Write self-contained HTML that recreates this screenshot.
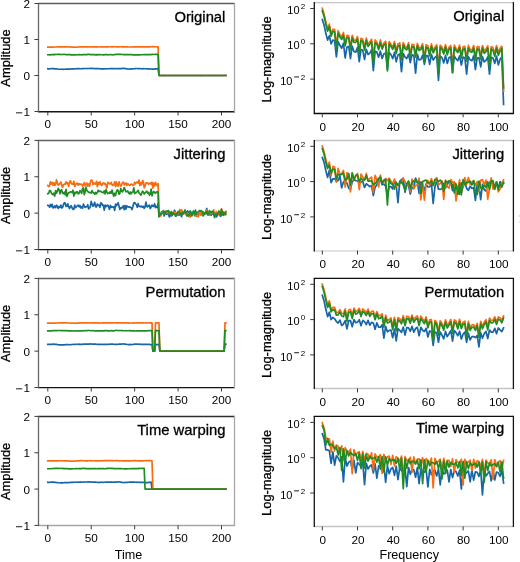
<!DOCTYPE html>
<html><head><meta charset="utf-8"><style>
html,body{margin:0;padding:0;background:#fff;width:520px;height:562px;overflow:hidden}
svg{display:block;will-change:transform}
text{font-family:"Liberation Sans", sans-serif;fill:#000}
.ti,.lb{stroke:#000;stroke-width:0.3px}
.tk{font-size:10.5px}
.tk2{font-size:10.5px}
.sup{font-size:8px}
.tky{font-size:11px}
.ti{font-size:14.8px}
.lb{font-size:12.9px}
.xl{font-size:12.6px}
</style></head><body>
<svg width="520" height="562" viewBox="0 0 520 562">
<g>
<polyline points="47.8,68.77 48.67,68.82 49.54,68.8 50.41,68.75 51.27,68.68 52.14,68.71 53.01,68.64 53.88,68.59 54.75,68.8 55.62,68.79 56.48,68.89 57.35,69.03 58.22,69.2 59.09,69.23 59.96,69.25 60.83,69.23 61.7,69.27 62.56,69.18 63.43,69.34 64.3,69.24 65.17,69.14 66.04,68.99 66.91,69.09 67.78,69.03 68.64,69.13 69.51,69.2 70.38,69.1 71.25,68.97 72.12,68.93 72.99,68.86 73.85,68.91 74.72,68.8 75.59,68.76 76.46,68.68 77.33,68.71 78.2,68.79 79.07,68.62 79.93,68.74 80.8,68.74 81.67,68.68 82.54,68.72 83.41,68.58 84.28,68.52 85.15,68.52 86.01,68.52 86.88,68.58 87.75,68.48 88.62,68.49 89.49,68.51 90.36,68.4 91.22,68.45 92.09,68.56 92.96,68.45 93.83,68.49 94.7,68.53 95.57,68.6 96.44,68.7 97.3,68.71 98.17,68.69 99.04,68.72 99.91,68.77 100.78,68.84 101.65,68.76 102.52,68.92 103.38,68.87 104.25,68.83 105.12,68.72 105.99,68.73 106.86,68.85 107.73,68.77 108.59,68.73 109.46,68.66 110.33,68.54 111.2,68.53 112.07,68.49 112.94,68.6 113.81,68.67 114.67,68.73 115.54,68.7 116.41,68.72 117.28,68.75 118.15,68.66 119.02,68.64 119.89,68.62 120.75,68.63 121.62,68.54 122.49,68.45 123.36,68.4 124.23,68.47 125.1,68.53 125.97,68.71 126.83,68.87 127.7,68.95 128.57,68.99 129.44,69.06 130.31,68.88 131.18,68.99 132.04,68.94 132.91,68.95 133.78,68.78 134.65,68.64 135.52,68.63 136.39,68.51 137.26,68.48 138.12,68.73 138.99,68.68 139.86,68.62 140.73,68.72 141.6,68.74 142.47,68.79 143.34,68.7 144.2,68.74 145.07,68.77 145.94,68.74 146.81,68.74 147.68,68.9 148.55,68.91 149.41,68.9 150.28,69 151.15,69.01 152.02,69.16 152.89,69.11 153.76,69.12 154.63,69.06 155.49,68.89 156.36,68.92 157.23,68.85 158.1,68.58 158.97,75.5 159.84,75.5 160.7,75.51 161.57,75.49 162.44,75.51 163.31,75.5 164.18,75.51 165.05,75.51 165.92,75.51 166.78,75.49 167.65,75.5 168.52,75.49 169.39,75.5 170.26,75.51 171.13,75.5 172,75.51 172.86,75.5 173.73,75.5 174.6,75.5 175.47,75.51 176.34,75.51 177.21,75.48 178.07,75.51 178.94,75.51 179.81,75.5 180.68,75.48 181.55,75.52 182.42,75.5 183.29,75.51 184.15,75.52 185.02,75.49 185.89,75.5 186.76,75.5 187.63,75.51 188.5,75.5 189.37,75.51 190.23,75.5 191.1,75.51 191.97,75.51 192.84,75.49 193.71,75.51 194.58,75.5 195.44,75.5 196.31,75.5 197.18,75.51 198.05,75.49 198.92,75.5 199.79,75.5 200.66,75.5 201.52,75.49 202.39,75.49 203.26,75.5 204.13,75.51 205,75.51 205.87,75.49 206.74,75.49 207.6,75.5 208.47,75.49 209.34,75.49 210.21,75.49 211.08,75.49 211.95,75.5 212.81,75.48 213.68,75.51 214.55,75.49 215.42,75.49 216.29,75.49 217.16,75.48 218.03,75.48 218.89,75.51 219.76,75.52 220.63,75.49 221.5,75.51 222.37,75.5 223.24,75.49 224.11,75.52 224.97,75.52 225.84,75.5" fill="none" stroke="#1666a8" stroke-width="1.7" stroke-linejoin="round" stroke-linecap="square"/>
<polyline points="47.8,47.06 48.67,47.07 49.54,47.04 50.41,47.08 51.27,47.08 52.14,47.06 53.01,47.08 53.88,47.04 54.75,47.01 55.62,47.01 56.48,47 57.35,46.93 58.22,46.95 59.09,46.89 59.96,46.85 60.83,46.82 61.7,46.88 62.56,46.87 63.43,46.86 64.3,46.87 65.17,46.95 66.04,46.91 66.91,46.9 67.78,46.89 68.64,46.98 69.51,46.95 70.38,47.01 71.25,47.16 72.12,47.18 72.99,47.13 73.85,47.12 74.72,47.2 75.59,47.24 76.46,47.11 77.33,47.08 78.2,47 79.07,46.88 79.93,46.86 80.8,46.88 81.67,46.86 82.54,46.8 83.41,46.81 84.28,46.83 85.15,46.86 86.01,46.82 86.88,46.87 87.75,46.88 88.62,46.91 89.49,46.98 90.36,46.92 91.22,46.83 92.09,46.87 92.96,46.81 93.83,46.84 94.7,46.89 95.57,46.87 96.44,46.88 97.3,46.82 98.17,46.93 99.04,47 99.91,46.98 100.78,46.97 101.65,46.97 102.52,46.87 103.38,46.82 104.25,46.84 105.12,46.86 105.99,46.89 106.86,46.82 107.73,46.77 108.59,46.78 109.46,46.77 110.33,46.76 111.2,46.82 112.07,46.8 112.94,46.8 113.81,46.72 114.67,46.73 115.54,46.74 116.41,46.78 117.28,46.83 118.15,46.86 119.02,46.8 119.89,46.77 120.75,46.76 121.62,46.78 122.49,46.88 123.36,46.9 124.23,46.87 125.1,46.86 125.97,46.85 126.83,46.92 127.7,46.93 128.57,46.99 129.44,46.99 130.31,46.98 131.18,46.94 132.04,47.01 132.91,46.97 133.78,46.9 134.65,46.91 135.52,46.93 136.39,46.86 137.26,46.86 138.12,46.86 138.99,46.88 139.86,46.77 140.73,46.8 141.6,46.87 142.47,46.9 143.34,46.86 144.2,46.92 145.07,46.96 145.94,46.87 146.81,46.92 147.68,46.96 148.55,46.89 149.41,46.87 150.28,46.81 151.15,46.75 152.02,46.71 152.89,46.69 153.76,46.79 154.63,46.75 155.49,46.74 156.36,46.76 157.23,46.81 158.1,46.86 158.97,75.5 159.84,75.5 160.7,75.5 161.57,75.5 162.44,75.5 163.31,75.5 164.18,75.5 165.05,75.5 165.92,75.49 166.78,75.48 167.65,75.49 168.52,75.5 169.39,75.52 170.26,75.5 171.13,75.52 172,75.52 172.86,75.49 173.73,75.49 174.6,75.5 175.47,75.52 176.34,75.5 177.21,75.51 178.07,75.49 178.94,75.48 179.81,75.5 180.68,75.51 181.55,75.51 182.42,75.5 183.29,75.5 184.15,75.51 185.02,75.5 185.89,75.51 186.76,75.49 187.63,75.49 188.5,75.49 189.37,75.51 190.23,75.49 191.1,75.5 191.97,75.5 192.84,75.5 193.71,75.51 194.58,75.52 195.44,75.49 196.31,75.5 197.18,75.5 198.05,75.49 198.92,75.52 199.79,75.51 200.66,75.5 201.52,75.5 202.39,75.5 203.26,75.49 204.13,75.5 205,75.51 205.87,75.51 206.74,75.49 207.6,75.49 208.47,75.52 209.34,75.49 210.21,75.49 211.08,75.49 211.95,75.5 212.81,75.5 213.68,75.51 214.55,75.47 215.42,75.5 216.29,75.48 217.16,75.51 218.03,75.5 218.89,75.52 219.76,75.5 220.63,75.49 221.5,75.51 222.37,75.49 223.24,75.5 224.11,75.51 224.97,75.51 225.84,75.5" fill="none" stroke="#f86c12" stroke-width="1.7" stroke-linejoin="round" stroke-linecap="square"/>
<polyline points="47.8,54.77 48.67,54.77 49.54,54.78 50.41,54.79 51.27,54.71 52.14,54.67 53.01,54.47 53.88,54.53 54.75,54.56 55.62,54.47 56.48,54.52 57.35,54.44 58.22,54.38 59.09,54.39 59.96,54.36 60.83,54.54 61.7,54.5 62.56,54.52 63.43,54.44 64.3,54.45 65.17,54.49 66.04,54.6 66.91,54.6 67.78,54.67 68.64,54.72 69.51,54.72 70.38,54.65 71.25,54.82 72.12,54.83 72.99,54.88 73.85,54.84 74.72,54.86 75.59,54.84 76.46,54.76 77.33,54.72 78.2,54.85 79.07,54.71 79.93,54.7 80.8,54.74 81.67,54.79 82.54,54.68 83.41,54.65 84.28,54.58 85.15,54.62 86.01,54.56 86.88,54.59 87.75,54.38 88.62,54.37 89.49,54.35 90.36,54.55 91.22,54.63 92.09,54.59 92.96,54.53 93.83,54.61 94.7,54.71 95.57,54.87 96.44,54.7 97.3,54.79 98.17,54.68 99.04,54.66 99.91,54.64 100.78,54.77 101.65,54.73 102.52,54.73 103.38,54.78 104.25,54.78 105.12,54.52 105.99,54.59 106.86,54.57 107.73,54.78 108.59,54.73 109.46,54.71 110.33,54.61 111.2,54.55 112.07,54.73 112.94,54.79 113.81,54.77 114.67,54.61 115.54,54.35 116.41,54.33 117.28,54.38 118.15,54.38 119.02,54.41 119.89,54.39 120.75,54.39 121.62,54.46 122.49,54.51 123.36,54.65 124.23,54.62 125.1,54.58 125.97,54.62 126.83,54.65 127.7,54.61 128.57,54.65 129.44,54.56 130.31,54.6 131.18,54.69 132.04,54.7 132.91,54.78 133.78,54.78 134.65,54.73 135.52,54.86 136.39,54.82 137.26,54.82 138.12,54.83 138.99,54.77 139.86,54.8 140.73,54.77 141.6,54.75 142.47,54.76 143.34,54.61 144.2,54.7 145.07,54.7 145.94,54.68 146.81,54.66 147.68,54.66 148.55,54.55 149.41,54.65 150.28,54.58 151.15,54.57 152.02,54.46 152.89,54.45 153.76,54.51 154.63,54.52 155.49,54.44 156.36,54.45 157.23,54.32 158.1,54.46 158.97,75.49 159.84,75.49 160.7,75.5 161.57,75.52 162.44,75.49 163.31,75.5 164.18,75.53 165.05,75.5 165.92,75.52 166.78,75.51 167.65,75.51 168.52,75.49 169.39,75.5 170.26,75.5 171.13,75.48 172,75.48 172.86,75.5 173.73,75.5 174.6,75.51 175.47,75.51 176.34,75.5 177.21,75.5 178.07,75.5 178.94,75.49 179.81,75.51 180.68,75.5 181.55,75.49 182.42,75.49 183.29,75.49 184.15,75.5 185.02,75.5 185.89,75.5 186.76,75.51 187.63,75.52 188.5,75.49 189.37,75.5 190.23,75.5 191.1,75.52 191.97,75.5 192.84,75.51 193.71,75.51 194.58,75.52 195.44,75.5 196.31,75.49 197.18,75.5 198.05,75.51 198.92,75.5 199.79,75.49 200.66,75.53 201.52,75.5 202.39,75.49 203.26,75.49 204.13,75.48 205,75.49 205.87,75.5 206.74,75.5 207.6,75.49 208.47,75.51 209.34,75.5 210.21,75.49 211.08,75.48 211.95,75.5 212.81,75.5 213.68,75.5 214.55,75.49 215.42,75.5 216.29,75.48 217.16,75.51 218.03,75.5 218.89,75.5 219.76,75.49 220.63,75.49 221.5,75.52 222.37,75.51 223.24,75.5 224.11,75.51 224.97,75.52 225.84,75.49" fill="none" stroke="#1f8c24" stroke-width="1.7" stroke-linejoin="round" stroke-linecap="square"/>
<line x1="38" y1="3.5" x2="235" y2="3.5" stroke="#5c5c5c" stroke-width="1.3"/>
<line x1="38" y1="111.7" x2="235" y2="111.7" stroke="#141414" stroke-width="1.4"/>
<line x1="38.5" y1="3" x2="38.5" y2="112.2" stroke="#666" stroke-width="1.3"/>
<line x1="234.5" y1="3" x2="234.5" y2="112.2" stroke="#a6a6a6" stroke-width="1.3"/>
<line x1="34.46" y1="3.5" x2="38.46" y2="3.5" stroke="#3a3a3a" stroke-width="1"/>
<text transform="translate(29.96,8) scale(1.12,1)" text-anchor="end" class="tk">2</text>
<line x1="34.46" y1="39.5" x2="38.46" y2="39.5" stroke="#3a3a3a" stroke-width="1"/>
<text transform="translate(29.96,44) scale(1.12,1)" text-anchor="end" class="tk">1</text>
<line x1="34.46" y1="75.5" x2="38.46" y2="75.5" stroke="#3a3a3a" stroke-width="1"/>
<text transform="translate(29.96,80) scale(1.12,1)" text-anchor="end" class="tk">0</text>
<line x1="34.46" y1="111.5" x2="38.46" y2="111.5" stroke="#3a3a3a" stroke-width="1"/>
<text transform="translate(29.96,116) scale(1.12,1)" text-anchor="end" class="tk">1</text>
<rect x="16" y="112.4" width="6.2" height="0.9" fill="#000"/>
<line x1="47.8" y1="111.5" x2="47.8" y2="115.5" stroke="#3a3a3a" stroke-width="1"/>
<text transform="translate(47.8,127.8) scale(1.12,1)" text-anchor="middle" class="tk">0</text>
<line x1="91.22" y1="111.5" x2="91.22" y2="115.5" stroke="#3a3a3a" stroke-width="1"/>
<text transform="translate(91.22,127.8) scale(1.12,1)" text-anchor="middle" class="tk">50</text>
<line x1="134.65" y1="111.5" x2="134.65" y2="115.5" stroke="#3a3a3a" stroke-width="1"/>
<text transform="translate(134.65,127.8) scale(1.12,1)" text-anchor="middle" class="tk">100</text>
<line x1="178.07" y1="111.5" x2="178.07" y2="115.5" stroke="#3a3a3a" stroke-width="1"/>
<text transform="translate(178.07,127.8) scale(1.12,1)" text-anchor="middle" class="tk">150</text>
<line x1="221.5" y1="111.5" x2="221.5" y2="115.5" stroke="#3a3a3a" stroke-width="1"/>
<text transform="translate(221.5,127.8) scale(1.12,1)" text-anchor="middle" class="tk">200</text>
<text x="225.4" y="21.7" text-anchor="end" class="ti">Original</text>
<text transform="translate(10,58) rotate(-90)" text-anchor="middle" class="lb">Amplitude</text>
</g>
<g>
<polyline points="322.3,19.48 324.06,25.07 325.82,33.32 327.58,40.13 329.34,35.72 331.1,43.92 332.86,40.11 334.62,40.8 336.38,56.88 338.14,41.68 339.9,45.29 341.66,48.22 343.42,43.2 345.18,58 346.94,47.04 348.7,46.45 350.46,58.72 352.22,46.17 353.98,51.55 355.74,52.16 357.5,47.44 359.26,61.71 361.02,49.39 362.78,50.3 364.54,59.52 366.3,49.25 368.06,54.56 369.82,53.12 371.58,49.84 373.34,70.74 375.1,51.41 376.86,52.12 378.62,57.19 380.38,51.14 382.14,58.54 383.9,53.87 385.66,52.88 387.42,69.39 389.18,52.71 390.94,54.51 392.7,58.74 394.46,52.42 396.22,61.78 397.98,54.99 399.74,53.9 401.5,71.76 403.26,53.49 405.02,57.13 406.78,58.53 408.54,54.17 410.3,62.6 412.06,54.85 413.82,55.36 415.58,73.1 417.34,54.31 419.1,59.95 420.86,59.48 422.62,55.08 424.38,64.41 426.14,55.9 427.9,55.64 429.66,64.41 431.42,54.46 433.18,60.11 434.94,57.48 436.7,55.74 438.46,80.51 440.22,56 441.98,57.68 443.74,62.87 445.5,55.4 447.26,63.48 449.02,57.62 450.78,56.91 452.54,72.75 454.3,55.94 456.06,58.82 457.82,60.58 459.58,55.88 461.34,65.04 463.1,57.1 464.86,57.85 466.62,74.16 468.38,56.63 470.14,59.83 471.9,60.72 473.66,55.79 475.42,69.75 477.18,57.85 478.94,57.74 480.7,66.85 482.46,56.67 484.22,61.89 485.98,60.27 487.74,56.8 489.5,74.16 491.26,57.23 493.02,57.94 494.78,63.4 496.54,56.06 498.3,64.94 500.06,59.28 501.82,57.14 503.58,104.34" fill="none" stroke="#1666a8" stroke-width="1.7" stroke-linejoin="round" stroke-linecap="square"/>
<polyline points="322.3,8.37 324.06,14.06 325.82,21.68 327.58,28.76 329.34,24.11 331.1,34.26 332.86,29.26 334.62,29.4 336.38,47.7 338.14,30.72 339.9,34.66 341.66,37.27 343.42,32.46 345.18,44.49 346.94,35.29 348.7,35.55 350.46,47.92 352.22,35.25 353.98,40.22 355.74,40.23 357.5,36.57 359.26,51.47 361.02,38.25 362.78,39.16 364.54,47.75 366.3,38.05 368.06,44.13 369.82,41.97 371.58,39.22 373.34,59.24 375.1,39.91 376.86,42.09 378.62,47.87 380.38,39.89 382.14,47.55 383.9,42.94 385.66,41.24 387.42,64.98 389.18,41.5 390.94,44.31 392.7,47.56 394.46,41.48 396.22,50.93 397.98,43.73 399.74,42.96 401.5,58.19 403.26,42.51 405.02,46.34 406.78,47.53 408.54,42.74 410.3,54.68 412.06,44.27 413.82,44.52 415.58,54.86 417.34,43.38 419.1,48.25 420.86,47.47 422.62,43.73 424.38,59.34 426.14,44.67 427.9,45.75 429.66,53.18 431.42,43.93 433.18,50.4 434.94,47.25 436.7,44.77 438.46,70.27 440.22,45.08 441.98,47.07 443.74,51.83 445.5,44.61 447.26,52.44 449.02,47.08 450.78,45.51 452.54,68.51 454.3,45.16 456.06,48.39 457.82,50.83 459.58,45.06 461.34,55.1 463.1,46.82 464.86,46.32 466.62,59.43 468.38,45.42 470.14,49.66 471.9,49.95 473.66,45.49 475.42,57.85 477.18,46.65 478.94,46.96 480.7,56.35 482.46,45.54 484.22,50.85 485.98,49.24 487.74,45.79 489.5,63.9 491.26,46.52 493.02,47.68 494.78,53.95 496.54,45.51 498.3,52.43 500.06,48.28 501.82,46.21 503.58,91.28" fill="none" stroke="#f86c12" stroke-width="1.7" stroke-linejoin="round" stroke-linecap="square"/>
<polyline points="322.3,10.79 324.06,16.49 325.82,24.05 327.58,31.2 329.34,26.52 331.1,36.29 332.86,31.45 334.62,31.82 336.38,49.5 338.14,33.12 339.9,37.09 341.66,39.42 343.42,35.13 345.18,45.8 346.94,37.54 348.7,37.92 350.46,49.62 352.22,37.89 353.98,42.32 355.74,42.48 357.5,39.06 359.26,53.31 361.02,40.6 362.78,41.57 364.54,50.27 366.3,40.43 368.06,46.47 369.82,44.3 371.58,41.65 373.34,62.98 375.1,42.77 376.86,43.89 378.62,49.71 380.38,42.5 382.14,49.11 383.9,45.03 385.66,43.67 387.42,70.98 389.18,43.82 390.94,46.3 392.7,49.32 394.46,43.95 396.22,53.52 397.98,46.16 399.74,45.3 401.5,59.93 403.26,44.84 405.02,48.75 406.78,49.87 408.54,45.09 410.3,57.52 412.06,46.62 413.82,46.89 415.58,57.17 417.34,45.92 419.1,50.4 420.86,49.59 422.62,46.23 424.38,61.89 426.14,47.2 427.9,48.21 429.66,55.83 431.42,46.32 433.18,52.77 434.94,49.48 436.7,47.08 438.46,73.63 440.22,47.42 441.98,49.42 443.74,54.07 445.5,46.94 447.26,54.83 449.02,49.48 450.78,47.8 452.54,72.75 454.3,47.51 456.06,50.65 457.82,52.38 459.58,47.62 461.34,58.16 463.1,49.41 464.86,48.79 466.62,61.03 468.38,48.14 470.14,51.72 471.9,52.24 473.66,48.04 475.42,60.06 477.18,49.11 478.94,49.44 480.7,59.11 482.46,47.92 484.22,53.28 485.98,51.6 487.74,48.18 489.5,66.51 491.26,48.82 493.02,50.31 494.78,56.39 496.54,47.97 498.3,55.27 500.06,51.11 501.82,48.44 503.58,87.92" fill="none" stroke="#1f8c24" stroke-width="1.7" stroke-linejoin="round" stroke-linecap="square"/>
<line x1="313.8" y1="2.6" x2="513.9" y2="2.6" stroke="#c4c4c4" stroke-width="1.3"/>
<line x1="313.8" y1="113.5" x2="513.9" y2="113.5" stroke="#0c0c0c" stroke-width="1.3"/>
<line x1="314.3" y1="2.1" x2="314.3" y2="114" stroke="#141414" stroke-width="1.3"/>
<line x1="513.4" y1="2.1" x2="513.4" y2="114" stroke="#141414" stroke-width="1.3"/>
<line x1="310.2" y1="8.5" x2="314.2" y2="8.5" stroke="#3a3a3a" stroke-width="1"/>
<text x="299.6" y="14.1" text-anchor="end" class="tky">10</text>
<text x="305.2" y="9.1" text-anchor="end" class="sup">2</text>
<line x1="310.2" y1="43.8" x2="314.2" y2="43.8" stroke="#3a3a3a" stroke-width="1"/>
<text x="299.6" y="49.4" text-anchor="end" class="tky">10</text>
<text x="305.2" y="44.4" text-anchor="end" class="sup">0</text>
<line x1="310.2" y1="79.1" x2="314.2" y2="79.1" stroke="#3a3a3a" stroke-width="1"/>
<text x="292.4" y="84.7" text-anchor="end" class="tky">10</text>
<rect x="294.2" y="76.5" width="4.8" height="0.9" fill="#000"/>
<text x="305.2" y="79.7" text-anchor="end" class="sup">2</text>
<line x1="322.3" y1="113.3" x2="322.3" y2="117.3" stroke="#3a3a3a" stroke-width="1"/>
<text transform="translate(322.8,130.5) scale(1.12,1)" text-anchor="middle" class="tk2">0</text>
<line x1="357.5" y1="113.3" x2="357.5" y2="117.3" stroke="#3a3a3a" stroke-width="1"/>
<text transform="translate(358,130.5) scale(1.12,1)" text-anchor="middle" class="tk2">20</text>
<line x1="392.7" y1="113.3" x2="392.7" y2="117.3" stroke="#3a3a3a" stroke-width="1"/>
<text transform="translate(393.2,130.5) scale(1.12,1)" text-anchor="middle" class="tk2">40</text>
<line x1="427.9" y1="113.3" x2="427.9" y2="117.3" stroke="#3a3a3a" stroke-width="1"/>
<text transform="translate(428.4,130.5) scale(1.12,1)" text-anchor="middle" class="tk2">60</text>
<line x1="463.1" y1="113.3" x2="463.1" y2="117.3" stroke="#3a3a3a" stroke-width="1"/>
<text transform="translate(463.6,130.5) scale(1.12,1)" text-anchor="middle" class="tk2">80</text>
<line x1="498.3" y1="113.3" x2="498.3" y2="117.3" stroke="#3a3a3a" stroke-width="1"/>
<text transform="translate(498.8,130.5) scale(1.12,1)" text-anchor="middle" class="tk2">100</text>
<text x="504.2" y="21" text-anchor="end" class="ti">Original</text>
<text transform="translate(270.8,59.45) rotate(-90)" text-anchor="middle" class="lb">Log-magnitude</text>
</g>
<g>
<polyline points="47.8,205.44 48.67,205.49 49.54,207.23 50.41,204.45 51.27,206.68 52.14,204.28 53.01,207.86 53.88,207.71 54.75,205.99 55.62,207.64 56.48,205.23 57.35,206.13 58.22,208.45 59.09,206.66 59.96,207.46 60.83,205.14 61.7,207.99 62.56,207.55 63.43,204.71 64.3,202.74 65.17,203.07 66.04,206.44 66.91,206.26 67.78,203.81 68.64,206.92 69.51,208.54 70.38,206.46 71.25,205.72 72.12,208.01 72.99,209.42 73.85,209.09 74.72,205.16 75.59,207.7 76.46,206.5 77.33,205.89 78.2,205.23 79.07,206.79 79.93,205.39 80.8,207.92 81.67,206.9 82.54,208.15 83.41,204.08 84.28,206.13 85.15,207.43 86.01,206.72 86.88,206.55 87.75,204.76 88.62,208.95 89.49,207.95 90.36,206.65 91.22,201.4 92.09,204.38 92.96,206.21 93.83,204.76 94.7,202.35 95.57,206.59 96.44,206.93 97.3,204.07 98.17,205.36 99.04,205.06 99.91,207.26 100.78,202.91 101.65,203.21 102.52,205.46 103.38,205.19 104.25,210.08 105.12,205.12 105.99,206.65 106.86,205.62 107.73,205.1 108.59,206.92 109.46,209.3 110.33,205.43 111.2,207.44 112.07,206.66 112.94,207.26 113.81,206.85 114.67,210.49 115.54,204.05 116.41,205.82 117.28,204.29 118.15,202.63 119.02,206.16 119.89,209.46 120.75,207.82 121.62,208.29 122.49,206.92 123.36,205.82 124.23,209.67 125.1,205.47 125.97,209.02 126.83,205.89 127.7,206.71 128.57,207.13 129.44,206.76 130.31,207.43 131.18,207.67 132.04,209.57 132.91,206.57 133.78,202.99 134.65,202.6 135.52,203.79 136.39,204.79 137.26,207.27 138.12,203.67 138.99,206.34 139.86,206.31 140.73,206.82 141.6,206.14 142.47,207.15 143.34,206.42 144.2,208.28 145.07,207.02 145.94,202.16 146.81,206.43 147.68,206.9 148.55,205.5 149.41,205.18 150.28,208.59 151.15,206.95 152.02,205.06 152.89,206.18 153.76,206.47 154.63,203.8 155.49,207.69 156.36,206.34 157.23,207.36 158.1,203.43 158.97,216.69 159.84,214.35 160.7,214.11 161.57,211.91 162.44,212.04 163.31,210.6 164.18,216 165.05,211.78 165.92,213.68 166.78,214.33 167.65,212.15 168.52,214.8 169.39,216.91 170.26,213.81 171.13,215.86 172,214.32 172.86,212.46 173.73,212.57 174.6,210.25 175.47,213.51 176.34,215.93 177.21,214.49 178.07,214.81 178.94,215.36 179.81,212.34 180.68,214.29 181.55,216.74 182.42,211.87 183.29,213.34 184.15,212.5 185.02,212.93 185.89,211.99 186.76,213.06 187.63,210.89 188.5,212.36 189.37,212.43 190.23,212.39 191.1,215.79 191.97,213.45 192.84,213.59 193.71,212.76 194.58,215.6 195.44,210.16 196.31,212.95 197.18,215.34 198.05,216.23 198.92,213.65 199.79,213.3 200.66,214.44 201.52,212.95 202.39,214.29 203.26,212.13 204.13,214.46 205,213.22 205.87,211.34 206.74,208.45 207.6,214.97 208.47,213.97 209.34,214.65 210.21,211.7 211.08,215.21 211.95,214.02 212.81,213.17 213.68,214.93 214.55,214.86 215.42,213.99 216.29,216.94 217.16,215.74 218.03,213.87 218.89,212.88 219.76,213.49 220.63,216.35 221.5,213.99 222.37,211.68 223.24,212.11 224.11,213.29 224.97,214.77 225.84,211.98" fill="none" stroke="#1666a8" stroke-width="1.7" stroke-linejoin="round" stroke-linecap="square"/>
<polyline points="47.8,185.46 48.67,186.54 49.54,185.85 50.41,181.79 51.27,184.02 52.14,182.29 53.01,185.3 53.88,182.68 54.75,185.44 55.62,184.64 56.48,179.82 57.35,182.88 58.22,185.2 59.09,184.39 59.96,183.6 60.83,181.96 61.7,185.12 62.56,187.38 63.43,184.71 64.3,184.19 65.17,184.09 66.04,181.85 66.91,183.66 67.78,182.76 68.64,186.32 69.51,182.71 70.38,180.54 71.25,183.1 72.12,184.06 72.99,184.19 73.85,181.21 74.72,186.24 75.59,184.79 76.46,183.62 77.33,183.07 78.2,185.14 79.07,183.66 79.93,184.7 80.8,184 81.67,184.44 82.54,186.22 83.41,184.19 84.28,182.58 85.15,185.97 86.01,184.6 86.88,183 87.75,186.17 88.62,183.92 89.49,186.25 90.36,182.2 91.22,179.96 92.09,180.53 92.96,184.55 93.83,182.83 94.7,184.01 95.57,184.03 96.44,181.4 97.3,186.56 98.17,182.35 99.04,184.43 99.91,181.77 100.78,183.97 101.65,185.54 102.52,183.71 103.38,182.82 104.25,184.12 105.12,183.31 105.99,185.18 106.86,188.04 107.73,182.48 108.59,182.85 109.46,183.84 110.33,183.98 111.2,182.27 112.07,184.98 112.94,185.42 113.81,184.41 114.67,181.9 115.54,186.61 116.41,181.95 117.28,185.33 118.15,186.2 119.02,181.85 119.89,184.29 120.75,186.47 121.62,184.77 122.49,182.53 123.36,182.08 124.23,184.99 125.1,183.46 125.97,182.89 126.83,185.43 127.7,183.63 128.57,184.4 129.44,185.31 130.31,185.22 131.18,184.16 132.04,184.3 132.91,185.34 133.78,185.02 134.65,182.22 135.52,183.89 136.39,182.6 137.26,182.01 138.12,183.13 138.99,180.09 139.86,185.61 140.73,182.67 141.6,184.79 142.47,180.86 143.34,181.11 144.2,187.81 145.07,186.06 145.94,183.01 146.81,182.83 147.68,182.96 148.55,184.36 149.41,183.39 150.28,182.97 151.15,184.23 152.02,182.18 152.89,188.14 153.76,182.98 154.63,185.98 155.49,182.34 156.36,184.52 157.23,185.76 158.1,183.52 158.97,214.79 159.84,214.8 160.7,215.98 161.57,213.18 162.44,212.23 163.31,211.27 164.18,213.39 165.05,211.23 165.92,213.1 166.78,213.28 167.65,212.08 168.52,211.21 169.39,213.77 170.26,213.57 171.13,213.45 172,213 172.86,214.76 173.73,211.26 174.6,213.86 175.47,212.31 176.34,214.64 177.21,212.49 178.07,212.41 178.94,213.87 179.81,209.46 180.68,212.47 181.55,209.92 182.42,211.39 183.29,214.34 184.15,213.84 185.02,212.34 185.89,213.03 186.76,213.03 187.63,213.64 188.5,216.41 189.37,213.55 190.23,217.16 191.1,212.46 191.97,214.46 192.84,214.44 193.71,213.55 194.58,212.65 195.44,215.73 196.31,216.31 197.18,215.07 198.05,216.83 198.92,214.91 199.79,210.25 200.66,215.05 201.52,211.94 202.39,215.63 203.26,212.58 204.13,213.71 205,213.26 205.87,212.11 206.74,209.93 207.6,212.77 208.47,212.93 209.34,214.89 210.21,212.07 211.08,213.57 211.95,211.62 212.81,213.22 213.68,209.98 214.55,216.71 215.42,213.67 216.29,211.51 217.16,213.78 218.03,214.57 218.89,213.64 219.76,215.65 220.63,212.91 221.5,208.71 222.37,211.04 223.24,215.15 224.11,214.73 224.97,213.87 225.84,211.31" fill="none" stroke="#f86c12" stroke-width="1.7" stroke-linejoin="round" stroke-linecap="square"/>
<polyline points="47.8,193.69 48.67,193.45 49.54,190.59 50.41,190.64 51.27,192.81 52.14,194.13 53.01,194.71 53.88,193.22 54.75,196.04 55.62,190.52 56.48,193.09 57.35,190.98 58.22,188.4 59.09,189.68 59.96,193.87 60.83,190.38 61.7,189.81 62.56,193.3 63.43,193.59 64.3,192.07 65.17,194.82 66.04,189.35 66.91,196.39 67.78,194.11 68.64,192.63 69.51,192.55 70.38,191.76 71.25,191.75 72.12,192.65 72.99,190.24 73.85,196.15 74.72,192.28 75.59,193.56 76.46,191.95 77.33,191.74 78.2,193.93 79.07,193.3 79.93,190.68 80.8,191.52 81.67,193.45 82.54,188.39 83.41,187.87 84.28,194.66 85.15,191.5 86.01,187.42 86.88,190.58 87.75,191.4 88.62,192.17 89.49,192.75 90.36,192.36 91.22,193.05 92.09,190.66 92.96,192.67 93.83,192.83 94.7,194.32 95.57,192.38 96.44,193.75 97.3,192.54 98.17,190.21 99.04,191.42 99.91,191.14 100.78,191.55 101.65,192.04 102.52,192.39 103.38,192.76 104.25,190.82 105.12,193.91 105.99,189.57 106.86,191.93 107.73,193.56 108.59,193.04 109.46,193.37 110.33,191.74 111.2,193.28 112.07,190.07 112.94,193.63 113.81,196.32 114.67,193.36 115.54,195.42 116.41,191.82 117.28,189.87 118.15,190.62 119.02,194.27 119.89,193.19 120.75,188.57 121.62,191.3 122.49,191.92 123.36,190.15 124.23,187.58 125.1,189.64 125.97,191.79 126.83,191.42 127.7,190.91 128.57,193.18 129.44,193.9 130.31,191.93 131.18,193.83 132.04,192.24 132.91,192.03 133.78,187.94 134.65,193.7 135.52,192.51 136.39,192.54 137.26,191.45 138.12,190.35 138.99,193.08 139.86,193.71 140.73,195.18 141.6,193.85 142.47,191.21 143.34,191.95 144.2,193.97 145.07,192.8 145.94,192.04 146.81,191.16 147.68,193.16 148.55,192.43 149.41,195.38 150.28,194.09 151.15,189.05 152.02,195.86 152.89,192.49 153.76,191.53 154.63,192.62 155.49,193.33 156.36,191.98 157.23,191.74 158.1,192.03 158.97,216.53 159.84,213.39 160.7,214.69 161.57,214.15 162.44,212.71 163.31,211.97 164.18,211.53 165.05,214.03 165.92,211.47 166.78,211.01 167.65,211.07 168.52,210.59 169.39,213.4 170.26,213.45 171.13,211.61 172,215.6 172.86,212.75 173.73,214.1 174.6,213.82 175.47,216.31 176.34,214.75 177.21,213.17 178.07,211.52 178.94,211.32 179.81,213.29 180.68,213.48 181.55,214.64 182.42,212.4 183.29,213.57 184.15,212.03 185.02,209.95 185.89,213.19 186.76,215.87 187.63,214.72 188.5,215.78 189.37,215.31 190.23,210.76 191.1,212.74 191.97,215.9 192.84,211.95 193.71,210.85 194.58,213.81 195.44,214.37 196.31,213.74 197.18,212.61 198.05,211.98 198.92,210.98 199.79,210.92 200.66,211.01 201.52,210.66 202.39,211.92 203.26,215.91 204.13,213.35 205,212.55 205.87,213.83 206.74,211.47 207.6,213.78 208.47,214.82 209.34,210.51 210.21,211.91 211.08,212.71 211.95,211.45 212.81,211.2 213.68,212.51 214.55,217.59 215.42,214.36 216.29,213.95 217.16,214.93 218.03,212.77 218.89,210.97 219.76,214.01 220.63,215.19 221.5,209.46 222.37,213.96 223.24,215.37 224.11,212.71 224.97,212.38 225.84,214.4" fill="none" stroke="#1f8c24" stroke-width="1.7" stroke-linejoin="round" stroke-linecap="square"/>
<line x1="38" y1="140.5" x2="235" y2="140.5" stroke="#626262" stroke-width="1.3"/>
<line x1="38" y1="249.6" x2="235" y2="249.6" stroke="#141414" stroke-width="1.3"/>
<line x1="38.5" y1="140" x2="38.5" y2="250.1" stroke="#666" stroke-width="1.3"/>
<line x1="234.5" y1="140" x2="234.5" y2="250.1" stroke="#a6a6a6" stroke-width="1.3"/>
<line x1="34.46" y1="140.4" x2="38.46" y2="140.4" stroke="#3a3a3a" stroke-width="1"/>
<text transform="translate(29.96,144.9) scale(1.12,1)" text-anchor="end" class="tk">2</text>
<line x1="34.46" y1="176.77" x2="38.46" y2="176.77" stroke="#3a3a3a" stroke-width="1"/>
<text transform="translate(29.96,181.27) scale(1.12,1)" text-anchor="end" class="tk">1</text>
<line x1="34.46" y1="213.13" x2="38.46" y2="213.13" stroke="#3a3a3a" stroke-width="1"/>
<text transform="translate(29.96,217.63) scale(1.12,1)" text-anchor="end" class="tk">0</text>
<line x1="34.46" y1="249.5" x2="38.46" y2="249.5" stroke="#3a3a3a" stroke-width="1"/>
<text transform="translate(29.96,254) scale(1.12,1)" text-anchor="end" class="tk">1</text>
<rect x="16" y="250.4" width="6.2" height="0.9" fill="#000"/>
<line x1="47.8" y1="249.5" x2="47.8" y2="253.5" stroke="#3a3a3a" stroke-width="1"/>
<text transform="translate(47.8,265.8) scale(1.12,1)" text-anchor="middle" class="tk">0</text>
<line x1="91.22" y1="249.5" x2="91.22" y2="253.5" stroke="#3a3a3a" stroke-width="1"/>
<text transform="translate(91.22,265.8) scale(1.12,1)" text-anchor="middle" class="tk">50</text>
<line x1="134.65" y1="249.5" x2="134.65" y2="253.5" stroke="#3a3a3a" stroke-width="1"/>
<text transform="translate(134.65,265.8) scale(1.12,1)" text-anchor="middle" class="tk">100</text>
<line x1="178.07" y1="249.5" x2="178.07" y2="253.5" stroke="#3a3a3a" stroke-width="1"/>
<text transform="translate(178.07,265.8) scale(1.12,1)" text-anchor="middle" class="tk">150</text>
<line x1="221.5" y1="249.5" x2="221.5" y2="253.5" stroke="#3a3a3a" stroke-width="1"/>
<text transform="translate(221.5,265.8) scale(1.12,1)" text-anchor="middle" class="tk">200</text>
<text x="225.4" y="158.6" text-anchor="end" class="ti">Jittering</text>
<text transform="translate(10,195.45) rotate(-90)" text-anchor="middle" class="lb">Amplitude</text>
</g>
<g>
<polyline points="322.3,157.49 324.06,162.38 325.82,170.52 327.58,177.45 329.34,170.15 331.1,182.67 332.86,178.81 334.62,178.57 336.38,181.24 338.14,180.51 339.9,175.94 341.66,187.93 343.42,182.11 345.18,181.11 346.94,183.08 348.7,188.24 350.46,189.17 352.22,182.01 353.98,179.32 355.74,180.74 357.5,180.76 359.26,183.24 361.02,181.8 362.78,181.5 364.54,187.46 366.3,183.79 368.06,185.16 369.82,186.54 371.58,185.72 373.34,195.52 375.1,187.18 376.86,184.65 378.62,178.63 380.38,179.44 382.14,184.8 383.9,184 385.66,186.08 387.42,195.74 389.18,186.73 390.94,186.63 392.7,188.86 394.46,180.73 396.22,184.83 397.98,202.72 399.74,181.35 401.5,179.61 403.26,178.09 405.02,192.27 406.78,184.61 408.54,185.68 410.3,194.04 412.06,187.21 413.82,188.18 415.58,178.06 417.34,182.03 419.1,193.32 420.86,181.91 422.62,184.95 424.38,190.18 426.14,184.1 427.9,186.99 429.66,186.9 431.42,183.23 433.18,203.53 434.94,186.66 436.7,180.51 438.46,189.27 440.22,189.35 441.98,188.77 443.74,183.3 445.5,187.77 447.26,184.67 449.02,181.03 450.78,182.65 452.54,190.6 454.3,182.11 456.06,184.87 457.82,188.79 459.58,194.25 461.34,182.94 463.1,187.35 464.86,181.84 466.62,188.34 468.38,190.4 470.14,186.22 471.9,188.34 473.66,187.7 475.42,200.42 477.18,184.26 478.94,185.68 480.7,199.61 482.46,184.29 484.22,189.88 485.98,191.12 487.74,183.52 489.5,183.13 491.26,179.73 493.02,183.64 494.78,187.52 496.54,182.33 498.3,188.02 500.06,181.67 501.82,183.98 503.58,183.24" fill="none" stroke="#1666a8" stroke-width="1.7" stroke-linejoin="round" stroke-linecap="square"/>
<polyline points="322.3,146.11 324.06,151.73 325.82,159.19 327.58,166.74 329.34,162.02 331.1,175.81 332.86,166.35 334.62,166.95 336.38,182.18 338.14,168.43 339.9,173.72 341.66,173.74 343.42,170.39 345.18,187.08 346.94,172.54 348.7,174.52 350.46,191.99 352.22,173.13 353.98,179.84 355.74,176.24 357.5,173.36 359.26,189.59 361.02,174.13 362.78,177.26 364.54,180.41 366.3,173.36 368.06,180.54 369.82,178.46 371.58,177.13 373.34,192.51 375.1,175.31 376.86,179.79 378.62,186.85 380.38,175.16 382.14,182.38 383.9,182.41 385.66,178.62 387.42,180.59 389.18,178.12 390.94,181.24 392.7,184.01 394.46,179.02 396.22,186.29 397.98,184.89 399.74,183.81 401.5,182.98 403.26,178.42 405.02,181.32 406.78,186.1 408.54,181.65 410.3,191.97 412.06,179.02 413.82,188.87 415.58,185.48 417.34,185.17 419.1,178.2 420.86,199.91 422.62,183.39 424.38,200.08 426.14,184.08 427.9,180.5 429.66,185.16 431.42,178.53 433.18,184.53 434.94,182.67 436.7,177.55 438.46,184.92 440.22,183.43 441.98,180.93 443.74,199.38 445.5,180.04 447.26,186.65 449.02,188.15 450.78,179.49 452.54,182.27 454.3,182.28 456.06,200.81 457.82,188.83 459.58,179.91 461.34,193.02 463.1,186.52 464.86,177.63 466.62,184.21 468.38,177.48 470.14,184.32 471.9,182.24 473.66,180.67 475.42,185.32 477.18,181.58 478.94,191.56 480.7,180.25 482.46,179.67 484.22,184.67 485.98,180.06 487.74,199.08 489.5,188.26 491.26,177.89 493.02,189.14 494.78,184.82 496.54,181.67 498.3,191.83 500.06,188.94 501.82,182.87 503.58,179.84" fill="none" stroke="#f86c12" stroke-width="1.7" stroke-linejoin="round" stroke-linecap="square"/>
<polyline points="322.3,148.65 324.06,154.31 325.82,162.31 327.58,168.43 329.34,165.13 331.1,172.8 332.86,169.18 334.62,169.29 336.38,179.44 338.14,174.18 339.9,175.02 341.66,174.52 343.42,172.96 345.18,179.93 346.94,179.37 348.7,173.61 350.46,185.06 352.22,172.92 353.98,179.75 355.74,175.25 357.5,174.91 359.26,181.42 361.02,178.48 362.78,180.18 364.54,180 366.3,175.58 368.06,181.06 369.82,181.11 371.58,180.75 373.34,184.43 375.1,183.66 376.86,181.76 378.62,178.23 380.38,177.11 382.14,183.45 383.9,180.13 385.66,179.24 387.42,205.03 389.18,179.39 390.94,183.78 392.7,184.2 394.46,189.17 396.22,182.04 397.98,185.39 399.74,183.14 401.5,181.52 403.26,185.03 405.02,190.27 406.78,183.65 408.54,180.85 410.3,188.55 412.06,182.53 413.82,180.87 415.58,179.82 417.34,182.43 419.1,182.47 420.86,193.39 422.62,181.59 424.38,180.63 426.14,180.06 427.9,183.04 429.66,182.72 431.42,180.9 433.18,185.68 434.94,179.25 436.7,179.23 438.46,181.67 440.22,180.09 441.98,182.32 443.74,191.21 445.5,180.97 447.26,182.26 449.02,180.97 450.78,182.13 452.54,185.13 454.3,192.78 456.06,184.01 457.82,194.57 459.58,183.39 461.34,194.81 463.1,179.62 464.86,184.02 466.62,182.74 468.38,182.37 470.14,181.19 471.9,184.96 473.66,180.66 475.42,192.36 477.18,194.54 478.94,181.16 480.7,188 482.46,188.06 484.22,185.57 485.98,187.05 487.74,181.88 489.5,189.42 491.26,181.12 493.02,180.73 494.78,189.22 496.54,181.97 498.3,189.53 500.06,183.38 501.82,187.12 503.58,182.36" fill="none" stroke="#1f8c24" stroke-width="1.7" stroke-linejoin="round" stroke-linecap="square"/>
<line x1="313.8" y1="140.5" x2="513.9" y2="140.5" stroke="#c4c4c4" stroke-width="1.3"/>
<line x1="313.8" y1="251" x2="513.9" y2="251" stroke="#d8d8d8" stroke-width="1.6"/>
<line x1="314.3" y1="140" x2="314.3" y2="251.5" stroke="#141414" stroke-width="1.3"/>
<line x1="513.4" y1="140" x2="513.4" y2="251.5" stroke="#141414" stroke-width="1.3"/>
<line x1="310.2" y1="146.3" x2="314.2" y2="146.3" stroke="#3a3a3a" stroke-width="1"/>
<text x="299.6" y="151.9" text-anchor="end" class="tky">10</text>
<text x="305.2" y="146.9" text-anchor="end" class="sup">2</text>
<line x1="310.2" y1="181.6" x2="314.2" y2="181.6" stroke="#3a3a3a" stroke-width="1"/>
<text x="299.6" y="187.2" text-anchor="end" class="tky">10</text>
<text x="305.2" y="182.2" text-anchor="end" class="sup">0</text>
<line x1="310.2" y1="216.9" x2="314.2" y2="216.9" stroke="#3a3a3a" stroke-width="1"/>
<text x="292.4" y="222.5" text-anchor="end" class="tky">10</text>
<rect x="294.2" y="214.3" width="4.8" height="0.9" fill="#000"/>
<text x="305.2" y="217.5" text-anchor="end" class="sup">2</text>
<line x1="322.3" y1="250.6" x2="322.3" y2="254.6" stroke="#3a3a3a" stroke-width="1"/>
<text transform="translate(322.8,267.8) scale(1.12,1)" text-anchor="middle" class="tk2">0</text>
<line x1="357.5" y1="250.6" x2="357.5" y2="254.6" stroke="#3a3a3a" stroke-width="1"/>
<text transform="translate(358,267.8) scale(1.12,1)" text-anchor="middle" class="tk2">20</text>
<line x1="392.7" y1="250.6" x2="392.7" y2="254.6" stroke="#3a3a3a" stroke-width="1"/>
<text transform="translate(393.2,267.8) scale(1.12,1)" text-anchor="middle" class="tk2">40</text>
<line x1="427.9" y1="250.6" x2="427.9" y2="254.6" stroke="#3a3a3a" stroke-width="1"/>
<text transform="translate(428.4,267.8) scale(1.12,1)" text-anchor="middle" class="tk2">60</text>
<line x1="463.1" y1="250.6" x2="463.1" y2="254.6" stroke="#3a3a3a" stroke-width="1"/>
<text transform="translate(463.6,267.8) scale(1.12,1)" text-anchor="middle" class="tk2">80</text>
<line x1="498.3" y1="250.6" x2="498.3" y2="254.6" stroke="#3a3a3a" stroke-width="1"/>
<text transform="translate(498.8,267.8) scale(1.12,1)" text-anchor="middle" class="tk2">100</text>
<text x="504.2" y="159.4" text-anchor="end" class="ti">Jittering</text>
<text transform="translate(270.8,197) rotate(-90)" text-anchor="middle" class="lb">Log-magnitude</text>
</g>
<g>
<polyline points="47.8,344.33 48.67,344.38 49.54,344.37 50.41,344.32 51.27,344.24 52.14,344.28 53.01,344.2 53.88,344.15 54.75,344.36 55.62,344.36 56.48,344.46 57.35,344.6 58.22,344.77 59.09,344.8 59.96,344.82 60.83,344.8 61.7,344.84 62.56,344.75 63.43,344.91 64.3,344.81 65.17,344.71 66.04,344.56 66.91,344.66 67.78,344.6 68.64,344.69 69.51,344.77 70.38,344.67 71.25,344.54 72.12,344.5 72.99,344.43 73.85,344.48 74.72,344.37 75.59,344.32 76.46,344.24 77.33,344.27 78.2,344.35 79.07,344.18 79.93,344.3 80.8,344.3 81.67,344.25 82.54,344.29 83.41,344.14 84.28,344.09 85.15,344.08 86.01,344.08 86.88,344.15 87.75,344.04 88.62,344.05 89.49,344.07 90.36,343.96 91.22,344.01 92.09,344.12 92.96,344.01 93.83,344.05 94.7,344.09 95.57,344.17 96.44,344.27 97.3,344.28 98.17,344.26 99.04,344.28 99.91,344.33 100.78,344.41 101.65,344.32 102.52,344.49 103.38,344.43 104.25,344.39 105.12,344.28 105.99,344.3 106.86,344.41 107.73,344.34 108.59,344.29 109.46,344.23 110.33,344.1 111.2,344.09 112.07,344.06 112.94,344.16 113.81,344.23 114.67,344.29 115.54,344.27 116.41,344.28 117.28,344.31 118.15,344.23 119.02,344.2 119.89,344.18 120.75,344.2 121.62,344.1 122.49,344.01 123.36,343.96 124.23,344.03 125.1,344.1 125.97,344.28 126.83,344.44 127.7,344.51 128.57,344.56 129.44,344.63 130.31,344.45 131.18,344.56 132.04,344.51 132.91,344.52 133.78,344.35 134.65,344.2 135.52,344.19 136.39,344.07 137.26,344.04 138.12,344.3 138.99,344.24 139.86,344.19 140.73,344.29 141.6,344.3 142.47,344.36 143.34,344.27 144.2,344.31 145.07,344.34 145.94,344.3 146.81,344.31 147.68,344.47 148.55,344.47 149.41,344.46 150.28,344.56 151.15,344.57 152.02,344.73 152.89,351.14 153.76,351.14 154.63,351.14 155.49,344.67 156.36,344.69 157.23,344.62 158.1,344.46 158.97,344.49 159.84,351.12 160.7,351.14 161.57,351.13 162.44,351.14 163.31,351.14 164.18,351.15 165.05,351.12 165.92,351.14 166.78,351.12 167.65,351.13 168.52,351.14 169.39,351.14 170.26,351.14 171.13,351.13 172,351.14 172.86,351.14 173.73,351.15 174.6,351.14 175.47,351.12 176.34,351.14 177.21,351.14 178.07,351.13 178.94,351.12 179.81,351.15 180.68,351.14 181.55,351.14 182.42,351.15 183.29,351.13 184.15,351.13 185.02,351.13 185.89,351.14 186.76,351.13 187.63,351.14 188.5,351.13 189.37,351.15 190.23,351.15 191.1,351.12 191.97,351.14 192.84,351.13 193.71,351.13 194.58,351.14 195.44,351.14 196.31,351.13 197.18,351.14 198.05,351.13 198.92,351.13 199.79,351.12 200.66,351.13 201.52,351.13 202.39,351.14 203.26,351.15 204.13,351.12 205,351.12 205.87,351.13 206.74,351.13 207.6,351.12 208.47,351.12 209.34,351.12 210.21,351.14 211.08,351.12 211.95,351.15 212.81,351.12 213.68,351.13 214.55,351.12 215.42,351.11 216.29,351.12 217.16,351.15 218.03,351.15 218.89,351.12 219.76,351.14 220.63,351.13 221.5,351.12 222.37,351.15 223.24,351.16 224.11,351.13 224.97,344.42 225.84,344.14" fill="none" stroke="#1666a8" stroke-width="1.7" stroke-linejoin="round" stroke-linecap="square"/>
<polyline points="47.8,323.11 48.67,323.11 49.54,323.09 50.41,323.13 51.27,323.12 52.14,323.1 53.01,323.13 53.88,323.08 54.75,323.05 55.62,323.05 56.48,323.04 57.35,322.98 58.22,322.99 59.09,322.93 59.96,322.9 60.83,322.86 61.7,322.93 62.56,322.91 63.43,322.9 64.3,322.92 65.17,322.99 66.04,322.95 66.91,322.94 67.78,322.94 68.64,323.02 69.51,322.99 70.38,323.05 71.25,323.2 72.12,323.22 72.99,323.17 73.85,323.16 74.72,323.25 75.59,323.29 76.46,323.16 77.33,323.12 78.2,323.05 79.07,322.92 79.93,322.9 80.8,322.92 81.67,322.9 82.54,322.85 83.41,322.85 84.28,322.87 85.15,322.91 86.01,322.87 86.88,322.91 87.75,322.92 88.62,322.95 89.49,323.02 90.36,322.97 91.22,322.87 92.09,322.91 92.96,322.85 93.83,322.88 94.7,322.93 95.57,322.92 96.44,322.92 97.3,322.86 98.17,322.97 99.04,323.04 99.91,323.03 100.78,323.01 101.65,323.01 102.52,322.91 103.38,322.86 104.25,322.88 105.12,322.9 105.99,322.93 106.86,322.86 107.73,322.81 108.59,322.82 109.46,322.81 110.33,322.81 111.2,322.86 112.07,322.84 112.94,322.84 113.81,322.76 114.67,322.77 115.54,322.78 116.41,322.82 117.28,322.87 118.15,322.9 119.02,322.84 119.89,322.81 120.75,322.8 121.62,322.82 122.49,322.92 123.36,322.95 124.23,322.91 125.1,322.9 125.97,322.89 126.83,322.96 127.7,322.97 128.57,323.04 129.44,323.03 130.31,323.02 131.18,322.99 132.04,323.05 132.91,323.01 133.78,322.94 134.65,322.95 135.52,322.98 136.39,322.91 137.26,322.9 138.12,322.9 138.99,322.92 139.86,322.81 140.73,322.84 141.6,322.91 142.47,322.94 143.34,322.9 144.2,322.96 145.07,323 145.94,322.91 146.81,322.97 147.68,323 148.55,322.93 149.41,322.92 150.28,322.85 151.15,322.79 152.02,322.75 152.89,351.13 153.76,351.14 154.63,351.13 155.49,322.73 156.36,322.83 157.23,322.79 158.1,322.78 158.97,322.8 159.84,351.13 160.7,351.14 161.57,351.13 162.44,351.13 163.31,351.13 164.18,351.13 165.05,351.11 165.92,351.13 166.78,351.13 167.65,351.15 168.52,351.13 169.39,351.15 170.26,351.15 171.13,351.12 172,351.13 172.86,351.13 173.73,351.15 174.6,351.14 175.47,351.14 176.34,351.13 177.21,351.11 178.07,351.13 178.94,351.14 179.81,351.15 180.68,351.13 181.55,351.14 182.42,351.15 183.29,351.13 184.15,351.15 185.02,351.12 185.89,351.12 186.76,351.12 187.63,351.14 188.5,351.13 189.37,351.13 190.23,351.14 191.1,351.14 191.97,351.15 192.84,351.15 193.71,351.12 194.58,351.14 195.44,351.13 196.31,351.12 197.18,351.15 198.05,351.14 198.92,351.13 199.79,351.13 200.66,351.14 201.52,351.12 202.39,351.13 203.26,351.15 204.13,351.14 205,351.12 205.87,351.13 206.74,351.15 207.6,351.12 208.47,351.13 209.34,351.12 210.21,351.14 211.08,351.14 211.95,351.15 212.81,351.11 213.68,351.14 214.55,351.12 215.42,351.14 216.29,351.13 217.16,351.15 218.03,351.14 218.89,351.12 219.76,351.15 220.63,351.12 221.5,351.13 222.37,351.14 223.24,351.14 224.11,351.14 224.97,322.85 225.84,322.9" fill="none" stroke="#f86c12" stroke-width="1.7" stroke-linejoin="round" stroke-linecap="square"/>
<polyline points="47.8,330.9 48.67,330.89 49.54,330.9 50.41,330.91 51.27,330.83 52.14,330.79 53.01,330.59 53.88,330.65 54.75,330.68 55.62,330.59 56.48,330.64 57.35,330.55 58.22,330.5 59.09,330.51 59.96,330.48 60.83,330.66 61.7,330.62 62.56,330.64 63.43,330.55 64.3,330.57 65.17,330.61 66.04,330.72 66.91,330.72 67.78,330.79 68.64,330.84 69.51,330.84 70.38,330.77 71.25,330.94 72.12,330.96 72.99,331.01 73.85,330.96 74.72,330.98 75.59,330.96 76.46,330.89 77.33,330.84 78.2,330.97 79.07,330.83 79.93,330.83 80.8,330.86 81.67,330.91 82.54,330.8 83.41,330.77 84.28,330.7 85.15,330.74 86.01,330.68 86.88,330.71 87.75,330.5 88.62,330.49 89.49,330.47 90.36,330.67 91.22,330.75 92.09,330.71 92.96,330.65 93.83,330.73 94.7,330.83 95.57,330.99 96.44,330.82 97.3,330.91 98.17,330.8 99.04,330.78 99.91,330.76 100.78,330.9 101.65,330.85 102.52,330.86 103.38,330.9 104.25,330.9 105.12,330.64 105.99,330.71 106.86,330.69 107.73,330.9 108.59,330.85 109.46,330.84 110.33,330.73 111.2,330.67 112.07,330.85 112.94,330.91 113.81,330.89 114.67,330.73 115.54,330.46 116.41,330.45 117.28,330.5 118.15,330.5 119.02,330.53 119.89,330.51 120.75,330.51 121.62,330.58 122.49,330.63 123.36,330.77 124.23,330.74 125.1,330.7 125.97,330.75 126.83,330.77 127.7,330.73 128.57,330.77 129.44,330.68 130.31,330.72 131.18,330.81 132.04,330.82 132.91,330.91 133.78,330.9 134.65,330.85 135.52,330.98 136.39,330.94 137.26,330.94 138.12,330.96 138.99,330.89 139.86,330.92 140.73,330.89 141.6,330.87 142.47,330.89 143.34,330.73 144.2,330.82 145.07,330.82 145.94,330.8 146.81,330.78 147.68,330.78 148.55,330.67 149.41,330.77 150.28,330.7 151.15,330.69 152.02,330.58 152.89,351.12 153.76,351.12 154.63,351.13 155.49,330.57 156.36,330.63 157.23,330.64 158.1,330.56 158.97,330.57 159.84,351.15 160.7,351.12 161.57,351.13 162.44,351.16 163.31,351.13 164.18,351.15 165.05,351.15 165.92,351.14 166.78,351.12 167.65,351.14 168.52,351.13 169.39,351.11 170.26,351.12 171.13,351.13 172,351.14 172.86,351.15 173.73,351.14 174.6,351.13 175.47,351.13 176.34,351.13 177.21,351.12 178.07,351.14 178.94,351.13 179.81,351.13 180.68,351.13 181.55,351.12 182.42,351.13 183.29,351.14 184.15,351.13 185.02,351.14 185.89,351.15 186.76,351.13 187.63,351.13 188.5,351.13 189.37,351.15 190.23,351.14 191.1,351.14 191.97,351.14 192.84,351.16 193.71,351.14 194.58,351.12 195.44,351.13 196.31,351.14 197.18,351.13 198.05,351.13 198.92,351.16 199.79,351.13 200.66,351.13 201.52,351.13 202.39,351.11 203.26,351.12 204.13,351.13 205,351.13 205.87,351.12 206.74,351.14 207.6,351.13 208.47,351.12 209.34,351.11 210.21,351.14 211.08,351.13 211.95,351.13 212.81,351.12 213.68,351.13 214.55,351.12 215.42,351.14 216.29,351.14 217.16,351.14 218.03,351.12 218.89,351.12 219.76,351.15 220.63,351.14 221.5,351.13 222.37,351.14 223.24,351.15 224.11,351.12 224.97,330.43 225.84,330.58" fill="none" stroke="#1f8c24" stroke-width="1.7" stroke-linejoin="round" stroke-linecap="square"/>
<line x1="38" y1="278.5" x2="235" y2="278.5" stroke="#626262" stroke-width="1.3"/>
<line x1="38" y1="387.6" x2="235" y2="387.6" stroke="#141414" stroke-width="1.3"/>
<line x1="38.5" y1="278" x2="38.5" y2="388.1" stroke="#666" stroke-width="1.3"/>
<line x1="234.5" y1="278" x2="234.5" y2="388.1" stroke="#a6a6a6" stroke-width="1.3"/>
<line x1="34.46" y1="278.4" x2="38.46" y2="278.4" stroke="#3a3a3a" stroke-width="1"/>
<text transform="translate(29.96,282.9) scale(1.12,1)" text-anchor="end" class="tk">2</text>
<line x1="34.46" y1="314.77" x2="38.46" y2="314.77" stroke="#3a3a3a" stroke-width="1"/>
<text transform="translate(29.96,319.27) scale(1.12,1)" text-anchor="end" class="tk">1</text>
<line x1="34.46" y1="351.13" x2="38.46" y2="351.13" stroke="#3a3a3a" stroke-width="1"/>
<text transform="translate(29.96,355.63) scale(1.12,1)" text-anchor="end" class="tk">0</text>
<line x1="34.46" y1="387.5" x2="38.46" y2="387.5" stroke="#3a3a3a" stroke-width="1"/>
<text transform="translate(29.96,392) scale(1.12,1)" text-anchor="end" class="tk">1</text>
<rect x="16" y="388.4" width="6.2" height="0.9" fill="#000"/>
<line x1="47.8" y1="387.5" x2="47.8" y2="391.5" stroke="#3a3a3a" stroke-width="1"/>
<text transform="translate(47.8,403.8) scale(1.12,1)" text-anchor="middle" class="tk">0</text>
<line x1="91.22" y1="387.5" x2="91.22" y2="391.5" stroke="#3a3a3a" stroke-width="1"/>
<text transform="translate(91.22,403.8) scale(1.12,1)" text-anchor="middle" class="tk">50</text>
<line x1="134.65" y1="387.5" x2="134.65" y2="391.5" stroke="#3a3a3a" stroke-width="1"/>
<text transform="translate(134.65,403.8) scale(1.12,1)" text-anchor="middle" class="tk">100</text>
<line x1="178.07" y1="387.5" x2="178.07" y2="391.5" stroke="#3a3a3a" stroke-width="1"/>
<text transform="translate(178.07,403.8) scale(1.12,1)" text-anchor="middle" class="tk">150</text>
<line x1="221.5" y1="387.5" x2="221.5" y2="391.5" stroke="#3a3a3a" stroke-width="1"/>
<text transform="translate(221.5,403.8) scale(1.12,1)" text-anchor="middle" class="tk">200</text>
<text x="225.4" y="296.6" text-anchor="end" class="ti">Permutation</text>
<text transform="translate(10,333.45) rotate(-90)" text-anchor="middle" class="lb">Amplitude</text>
</g>
<g>
<polyline points="322.3,295.28 324.06,300.92 325.82,309.31 327.58,316.66 329.34,312.25 331.1,319.57 332.86,317.44 334.62,318.8 336.38,321.53 338.14,323.01 339.9,320.1 341.66,325.48 343.42,324.19 345.18,320.69 346.94,328.81 348.7,320.71 350.46,320.48 352.22,326.75 353.98,319.68 355.74,322.7 357.5,322.24 359.26,319.67 361.02,325.75 362.78,320.43 364.54,321.59 366.3,324.67 368.06,320.36 369.82,325.19 371.58,322.33 373.34,322.93 375.1,329.28 376.86,322.87 378.62,327.15 380.38,327.25 382.14,324.81 383.9,338.04 385.66,326.45 387.42,331.86 389.18,330.27 390.94,330 392.7,337.7 394.46,329.15 396.22,340.83 397.98,328.69 399.74,330.44 401.5,332.33 403.26,327.08 405.02,335.05 406.78,327.5 408.54,327.94 410.3,331.32 412.06,326.38 413.82,332.2 415.58,328.56 417.34,327.31 419.1,335.71 420.86,327.29 422.62,330.26 424.38,331.59 426.14,328.27 427.9,336.97 429.66,330.94 431.42,331.7 433.18,345.5 434.94,331.89 436.7,332.77 438.46,342.26 440.22,332.04 441.98,335.1 443.74,338.84 445.5,331.45 447.26,336.65 449.02,333.77 450.78,330.61 452.54,341.15 454.3,330.6 456.06,332.65 457.82,335.71 459.58,331.19 461.34,339.06 463.1,334.32 464.86,332.12 466.62,342.44 468.38,333.44 470.14,339.92 471.9,336.53 473.66,336.51 475.42,337.58 477.18,335.52 478.94,346.8 480.7,332.64 482.46,338.26 484.22,333.7 485.98,331.35 487.74,338.53 489.5,330.01 491.26,332.11 493.02,332.16 494.78,328.38 496.54,333.79 498.3,327.94 500.06,329.81 501.82,331.53 503.58,327.91" fill="none" stroke="#1666a8" stroke-width="1.7" stroke-linejoin="round" stroke-linecap="square"/>
<polyline points="322.3,284.17 324.06,289.92 325.82,297.68 327.58,305.09 329.34,300.79 331.1,309.79 332.86,307.35 334.62,307.39 336.38,312.65 338.14,312.45 339.9,309.62 341.66,313.33 343.42,313.76 345.18,308.97 346.94,318.53 348.7,309.97 350.46,309.33 352.22,315.9 353.98,308.12 355.74,311.67 357.5,310.84 359.26,308.35 361.02,314.15 362.78,308.97 364.54,310.32 366.3,312.95 368.06,309.13 369.82,314.13 371.58,311.33 373.34,311.17 375.1,316.72 376.86,311.52 378.62,315.99 380.38,315.42 382.14,313.79 383.9,325.18 385.66,315.19 387.42,320.52 389.18,319.62 390.94,317.92 392.7,327.05 394.46,317.24 396.22,329.11 397.98,317.61 399.74,318.82 401.5,321.45 403.26,315.67 405.02,323.24 406.78,316.23 408.54,316.58 410.3,320.83 412.06,314.97 413.82,319.75 415.58,317.16 417.34,315.91 419.1,323.07 420.86,316.17 422.62,318.9 424.38,321.32 426.14,316.93 427.9,325.42 429.66,319.91 431.42,319.55 433.18,339.69 434.94,320.39 436.7,322.2 438.46,332.14 440.22,320.72 441.98,323.4 443.74,327.72 445.5,319.87 447.26,325.5 449.02,322.64 450.78,319.51 452.54,331.38 454.3,319.94 456.06,321.01 457.82,326.18 459.58,319.32 461.34,326.45 463.1,322.13 464.86,321.12 466.62,335.96 468.38,321.46 470.14,327.53 471.9,324.87 473.66,324.71 475.42,327.87 477.18,323.3 478.94,335.4 480.7,321.34 482.46,326.36 484.22,322.33 485.98,319.7 487.74,327.15 489.5,318.12 491.26,320.52 493.02,320.25 494.78,316.87 496.54,322.11 498.3,316.97 500.06,317.69 501.82,320.07 503.58,315.98" fill="none" stroke="#f86c12" stroke-width="1.7" stroke-linejoin="round" stroke-linecap="square"/>
<polyline points="322.3,286.59 324.06,292.35 325.82,300.05 327.58,307.47 329.34,303.22 331.1,311.79 332.86,309.62 334.62,309.82 336.38,315.19 338.14,314.83 339.9,312.04 341.66,316.01 343.42,316.74 345.18,311.13 346.94,321.27 348.7,312.38 350.46,311.84 352.22,318.58 353.98,310.43 355.74,314.06 357.5,313.39 359.26,310.7 361.02,316.58 362.78,311.41 364.54,312.69 366.3,315.43 368.06,311.55 369.82,316.38 371.58,313.76 373.34,313.57 375.1,319.69 376.86,313.65 378.62,318.6 380.38,318.08 382.14,316.15 383.9,327.14 385.66,317.65 387.42,322.99 389.18,322.27 390.94,320.12 392.7,329.62 394.46,319.68 396.22,330.93 397.98,319.86 399.74,321.23 401.5,323.87 403.26,318.01 405.02,325.67 406.78,318.61 408.54,318.91 410.3,323.33 412.06,317.28 413.82,322.17 415.58,319.63 417.34,318.12 419.1,325.54 420.86,318.64 422.62,321.13 424.38,323.64 426.14,319.32 427.9,327.79 429.66,322.17 431.42,322.01 433.18,340.96 434.94,322.62 436.7,324.63 438.46,335.06 440.22,323.02 441.98,325.69 443.74,330.09 445.5,322.15 447.26,327.93 449.02,325.14 450.78,321.82 452.54,333.52 454.3,322.02 456.06,323.56 457.82,328.88 459.58,321.66 461.34,328.65 463.1,324.35 464.86,323.4 466.62,337.66 468.38,323.73 470.14,330.34 471.9,327.28 473.66,327.21 475.42,330.43 477.18,325.75 478.94,337.35 480.7,323.85 482.46,328.75 484.22,324.76 485.98,322.07 487.74,329.88 489.5,320.6 491.26,322.89 493.02,322.58 494.78,319.34 496.54,324.4 498.3,319.32 500.06,320.04 501.82,322.84 503.58,318.06" fill="none" stroke="#1f8c24" stroke-width="1.7" stroke-linejoin="round" stroke-linecap="square"/>
<line x1="313.8" y1="278.4" x2="513.9" y2="278.4" stroke="#0e0e0e" stroke-width="1.3"/>
<line x1="313.8" y1="388.5" x2="513.9" y2="388.5" stroke="#c4c4c4" stroke-width="1.3"/>
<line x1="314.3" y1="277.9" x2="314.3" y2="389" stroke="#141414" stroke-width="1.3"/>
<line x1="513.4" y1="277.9" x2="513.4" y2="389" stroke="#141414" stroke-width="1.3"/>
<line x1="310.2" y1="284.3" x2="314.2" y2="284.3" stroke="#3a3a3a" stroke-width="1"/>
<text x="299.6" y="289.9" text-anchor="end" class="tky">10</text>
<text x="305.2" y="284.9" text-anchor="end" class="sup">2</text>
<line x1="310.2" y1="319.6" x2="314.2" y2="319.6" stroke="#3a3a3a" stroke-width="1"/>
<text x="299.6" y="325.2" text-anchor="end" class="tky">10</text>
<text x="305.2" y="320.2" text-anchor="end" class="sup">0</text>
<line x1="310.2" y1="354.9" x2="314.2" y2="354.9" stroke="#3a3a3a" stroke-width="1"/>
<text x="292.4" y="360.5" text-anchor="end" class="tky">10</text>
<rect x="294.2" y="352.3" width="4.8" height="0.9" fill="#000"/>
<text x="305.2" y="355.5" text-anchor="end" class="sup">2</text>
<line x1="322.3" y1="388.4" x2="322.3" y2="392.4" stroke="#3a3a3a" stroke-width="1"/>
<text transform="translate(322.8,405.6) scale(1.12,1)" text-anchor="middle" class="tk2">0</text>
<line x1="357.5" y1="388.4" x2="357.5" y2="392.4" stroke="#3a3a3a" stroke-width="1"/>
<text transform="translate(358,405.6) scale(1.12,1)" text-anchor="middle" class="tk2">20</text>
<line x1="392.7" y1="388.4" x2="392.7" y2="392.4" stroke="#3a3a3a" stroke-width="1"/>
<text transform="translate(393.2,405.6) scale(1.12,1)" text-anchor="middle" class="tk2">40</text>
<line x1="427.9" y1="388.4" x2="427.9" y2="392.4" stroke="#3a3a3a" stroke-width="1"/>
<text transform="translate(428.4,405.6) scale(1.12,1)" text-anchor="middle" class="tk2">60</text>
<line x1="463.1" y1="388.4" x2="463.1" y2="392.4" stroke="#3a3a3a" stroke-width="1"/>
<text transform="translate(463.6,405.6) scale(1.12,1)" text-anchor="middle" class="tk2">80</text>
<line x1="498.3" y1="388.4" x2="498.3" y2="392.4" stroke="#3a3a3a" stroke-width="1"/>
<text transform="translate(498.8,405.6) scale(1.12,1)" text-anchor="middle" class="tk2">100</text>
<text x="504.2" y="297.4" text-anchor="end" class="ti">Permutation</text>
<text transform="translate(270.8,334.9) rotate(-90)" text-anchor="middle" class="lb">Log-magnitude</text>
</g>
<g>
<polyline points="47.8,482.27 48.67,482.32 49.54,482.3 50.41,482.24 51.27,482.19 52.14,482.19 53.01,482.12 53.88,482.19 54.75,482.3 55.62,482.36 56.48,482.49 57.35,482.67 58.22,482.73 59.09,482.76 59.96,482.74 60.83,482.78 61.7,482.7 62.56,482.84 63.43,482.73 64.3,482.61 65.17,482.53 66.04,482.57 66.91,482.58 67.78,482.67 68.64,482.65 69.51,482.52 70.38,482.45 71.25,482.38 72.12,482.41 72.99,482.31 73.85,482.26 74.72,482.18 75.59,482.23 76.46,482.25 77.33,482.15 78.2,482.24 79.07,482.22 79.93,482.21 80.8,482.15 81.67,482.05 82.54,482.02 83.41,482.02 84.28,482.07 85.15,481.99 86.01,481.99 86.88,482 87.75,481.91 88.62,481.97 89.49,482.04 90.36,481.96 91.22,482.01 92.09,482.06 92.96,482.16 93.83,482.21 94.7,482.2 95.57,482.21 96.44,482.26 97.3,482.34 98.17,482.27 99.04,482.42 99.91,482.37 100.78,482.32 101.65,482.22 102.52,482.26 103.38,482.33 104.25,482.26 105.12,482.2 105.99,482.1 106.86,482.04 107.73,482.01 108.59,482.07 109.46,482.16 110.33,482.22 111.2,482.21 112.07,482.22 112.94,482.25 113.81,482.16 114.67,482.14 115.54,482.12 116.41,482.11 117.28,482 118.15,481.93 119.02,481.94 119.89,482.01 120.75,482.15 121.62,482.33 122.49,482.43 123.36,482.49 124.23,482.56 125.1,482.39 125.97,482.5 126.83,482.45 127.7,482.43 128.57,482.25 129.44,482.14 130.31,482.09 131.18,482 132.04,482.11 132.91,482.2 133.78,482.15 134.65,482.2 135.52,482.24 136.39,482.29 137.26,482.21 138.12,482.24 138.99,482.28 139.86,482.24 140.73,482.28 141.6,482.41 142.47,482.41 143.34,482.44 144.2,482.51 145.07,482.59 145.94,482.63 146.81,482.63 147.68,482.58 148.55,482.43 149.41,482.42 150.28,482.36 151.15,482.08 152.02,489.06 152.89,489.07 153.76,489.08 154.63,489.06 155.49,489.06 156.36,489.07 157.23,489.06 158.1,489.07 158.97,489.04 159.84,489.07 160.7,489.05 161.57,489.07 162.44,489.07 163.31,489.06 164.18,489.06 165.05,489.05 165.92,489.06 166.78,489.07 167.65,489.07 168.52,489.06 169.39,489.06 170.26,489.05 171.13,489.06 172,489.06 172.86,489.05 173.73,489.06 174.6,489.08 175.47,489.08 176.34,489.08 177.21,489.05 178.07,489.08 178.94,489.05 179.81,489.06 180.68,489.05 181.55,489.06 182.42,489.07 183.29,489.07 184.15,489.07 185.02,489.06 185.89,489.07 186.76,489.07 187.63,489.05 188.5,489.09 189.37,489.06 190.23,489.08 191.1,489.06 191.97,489.06 192.84,489.07 193.71,489.06 194.58,489.08 195.44,489.05 196.31,489.07 197.18,489.06 198.05,489.06 198.92,489.09 199.79,489.07 200.66,489.06 201.52,489.05 202.39,489.06 203.26,489.06 204.13,489.08 205,489.05 205.87,489.05 206.74,489.07 207.6,489.07 208.47,489.08 209.34,489.06 210.21,489.04 211.08,489.06 211.95,489.05 212.81,489.06 213.68,489.08 214.55,489.05 215.42,489.08 216.29,489.07 217.16,489.06 218.03,489.06 218.89,489.06 219.76,489.06 220.63,489.07 221.5,489.08 222.37,489.07 223.24,489.07 224.11,489.08 224.97,489.08 225.84,489.07" fill="none" stroke="#1666a8" stroke-width="1.7" stroke-linejoin="round" stroke-linecap="square"/>
<polyline points="47.8,460.97 48.67,460.97 49.54,460.95 50.41,460.99 51.27,460.97 52.14,460.97 53.01,460.97 53.88,460.93 54.75,460.91 55.62,460.91 56.48,460.86 57.35,460.85 58.22,460.81 59.09,460.76 59.96,460.73 60.83,460.78 61.7,460.77 62.56,460.76 63.43,460.78 64.3,460.85 65.17,460.81 66.04,460.8 66.91,460.82 67.78,460.87 68.64,460.87 69.51,460.98 70.38,461.07 71.25,461.05 72.12,461.02 72.99,461.08 73.85,461.14 74.72,461.04 75.59,460.99 76.46,460.91 77.33,460.78 78.2,460.76 79.07,460.78 79.93,460.75 80.8,460.71 81.67,460.72 82.54,460.74 83.41,460.75 84.28,460.75 85.15,460.78 86.01,460.8 86.88,460.86 87.75,460.84 88.62,460.75 89.49,460.76 90.36,460.72 91.22,460.74 92.09,460.79 92.96,460.77 93.83,460.77 94.7,460.74 95.57,460.84 96.44,460.9 97.3,460.88 98.17,460.87 99.04,460.83 99.91,460.75 100.78,460.73 101.65,460.75 102.52,460.78 103.38,460.74 104.25,460.68 105.12,460.68 105.99,460.67 106.86,460.67 107.73,460.72 108.59,460.7 109.46,460.69 110.33,460.63 111.2,460.63 112.07,460.65 112.94,460.7 113.81,460.74 114.67,460.73 115.54,460.69 116.41,460.67 117.28,460.67 118.15,460.75 119.02,460.8 119.89,460.78 120.75,460.76 121.62,460.75 122.49,460.82 123.36,460.84 124.23,460.9 125.1,460.89 125.97,460.87 126.83,460.87 127.7,460.9 128.57,460.84 129.44,460.81 130.31,460.82 131.18,460.79 132.04,460.76 132.91,460.76 133.78,460.78 134.65,460.69 135.52,460.7 136.39,460.77 137.26,460.8 138.12,460.77 138.99,460.82 139.86,460.85 140.73,460.79 141.6,460.84 142.47,460.84 143.34,460.79 144.2,460.75 145.07,460.68 145.94,460.63 146.81,460.6 147.68,460.66 148.55,460.66 149.41,460.64 150.28,460.66 151.15,460.71 152.02,460.76 152.89,489.09 153.76,489.08 154.63,489.08 155.49,489.06 156.36,489.06 157.23,489.04 158.1,489.08 158.97,489.07 159.84,489.06 160.7,489.07 161.57,489.07 162.44,489.05 163.31,489.07 164.18,489.08 165.05,489.08 165.92,489.06 166.78,489.06 167.65,489.08 168.52,489.08 169.39,489.06 170.26,489.06 171.13,489.07 172,489.06 172.86,489.06 173.73,489.09 174.6,489.07 175.47,489.06 176.34,489.07 177.21,489.09 178.07,489.07 178.94,489.06 179.81,489.05 180.68,489.09 181.55,489.04 182.42,489.08 183.29,489.06 184.15,489.05 185.02,489.06 185.89,489.07 186.76,489.08 187.63,489.06 188.5,489.07 189.37,489.09 190.23,489.04 191.1,489.06 191.97,489.05 192.84,489.08 193.71,489.05 194.58,489.05 195.44,489.05 196.31,489.07 197.18,489.08 198.05,489.07 198.92,489.09 199.79,489.09 200.66,489.07 201.52,489.08 202.39,489.07 203.26,489.07 204.13,489.05 205,489.05 205.87,489.07 206.74,489.05 207.6,489.08 208.47,489.07 209.34,489.06 210.21,489.08 211.08,489.07 211.95,489.08 212.81,489.07 213.68,489.05 214.55,489.07 215.42,489.06 216.29,489.08 217.16,489.08 218.03,489.08 218.89,489.05 219.76,489.04 220.63,489.06 221.5,489.07 222.37,489.06 223.24,489.07 224.11,489.06 224.97,489.06 225.84,489.06" fill="none" stroke="#f86c12" stroke-width="1.7" stroke-linejoin="round" stroke-linecap="square"/>
<polyline points="47.8,468.75 48.67,468.75 49.54,468.76 50.41,468.73 51.27,468.66 52.14,468.5 53.01,468.49 53.88,468.53 54.75,468.45 55.62,468.47 56.48,468.38 57.35,468.36 58.22,468.34 59.09,468.49 59.96,468.47 60.83,468.48 61.7,468.41 62.56,468.44 63.43,468.53 64.3,468.57 65.17,468.64 66.04,468.7 66.91,468.68 67.78,468.67 68.64,468.8 69.51,468.84 70.38,468.83 71.25,468.83 72.12,468.81 72.99,468.73 73.85,468.74 74.72,468.76 75.59,468.68 76.46,468.7 77.33,468.76 78.2,468.65 79.07,468.61 79.93,468.57 80.8,468.57 81.67,468.55 82.54,468.4 83.41,468.34 84.28,468.33 85.15,468.54 86.01,468.59 86.88,468.53 87.75,468.55 88.62,468.66 89.49,468.83 90.36,468.68 91.22,468.74 92.09,468.65 92.96,468.62 93.83,468.7 94.7,468.71 95.57,468.71 96.44,468.75 97.3,468.7 98.17,468.52 99.04,468.55 99.91,468.68 100.78,468.72 101.65,468.69 102.52,468.58 103.38,468.56 104.25,468.73 105.12,468.75 105.99,468.64 106.86,468.37 107.73,468.3 108.59,468.35 109.46,468.36 110.33,468.38 111.2,468.36 112.07,468.41 112.94,468.47 113.81,468.61 114.67,468.59 115.54,468.56 116.41,468.61 117.28,468.6 118.15,468.61 119.02,468.55 119.89,468.57 120.75,468.67 121.62,468.7 122.49,468.76 123.36,468.73 124.23,468.8 125.1,468.8 125.97,468.8 126.83,468.8 127.7,468.75 128.57,468.76 129.44,468.73 130.31,468.73 131.18,468.61 132.04,468.68 132.91,468.67 133.78,468.64 134.65,468.63 135.52,468.57 136.39,468.59 137.26,468.56 138.12,468.54 138.99,468.43 139.86,468.44 140.73,468.49 141.6,468.45 142.47,468.42 143.34,468.31 144.2,468.43 145.07,489.06 145.94,489.07 146.81,489.07 147.68,489.09 148.55,489.07 149.41,489.08 150.28,489.07 151.15,489.08 152.02,489.07 152.89,489.06 153.76,489.08 154.63,489.08 155.49,489.08 156.36,489.06 157.23,489.05 158.1,489.06 158.97,489.07 159.84,489.05 160.7,489.08 161.57,489.05 162.44,489.07 163.31,489.1 164.18,489.04 165.05,489.05 165.92,489.08 166.78,489.06 167.65,489.07 168.52,489.07 169.39,489.08 170.26,489.07 171.13,489.06 172,489.06 172.86,489.05 173.73,489.07 174.6,489.04 175.47,489.07 176.34,489.06 177.21,489.09 178.07,489.08 178.94,489.05 179.81,489.08 180.68,489.06 181.55,489.07 182.42,489.08 183.29,489.07 184.15,489.07 185.02,489.07 185.89,489.06 186.76,489.06 187.63,489.07 188.5,489.08 189.37,489.06 190.23,489.07 191.1,489.06 191.97,489.04 192.84,489.06 193.71,489.07 194.58,489.07 195.44,489.08 196.31,489.08 197.18,489.08 198.05,489.07 198.92,489.07 199.79,489.06 200.66,489.07 201.52,489.07 202.39,489.08 203.26,489.05 204.13,489.06 205,489.05 205.87,489.06 206.74,489.05 207.6,489.07 208.47,489.06 209.34,489.04 210.21,489.08 211.08,489.05 211.95,489.05 212.81,489.06 213.68,489.06 214.55,489.05 215.42,489.07 216.29,489.06 217.16,489.08 218.03,489.07 218.89,489.07 219.76,489.07 220.63,489.07 221.5,489.06 222.37,489.08 223.24,489.04 224.11,489.05 224.97,489.06 225.84,489.07" fill="none" stroke="#1f8c24" stroke-width="1.7" stroke-linejoin="round" stroke-linecap="square"/>
<line x1="38" y1="416.5" x2="235" y2="416.5" stroke="#2e2e2e" stroke-width="1.3"/>
<line x1="38" y1="525.5" x2="235" y2="525.5" stroke="#a6a6a6" stroke-width="1.3"/>
<line x1="38.5" y1="416" x2="38.5" y2="526" stroke="#666" stroke-width="1.3"/>
<line x1="234.5" y1="416" x2="234.5" y2="526" stroke="#a6a6a6" stroke-width="1.3"/>
<line x1="34.46" y1="416.4" x2="38.46" y2="416.4" stroke="#3a3a3a" stroke-width="1"/>
<text transform="translate(29.96,420.9) scale(1.12,1)" text-anchor="end" class="tk">2</text>
<line x1="34.46" y1="452.73" x2="38.46" y2="452.73" stroke="#3a3a3a" stroke-width="1"/>
<text transform="translate(29.96,457.23) scale(1.12,1)" text-anchor="end" class="tk">1</text>
<line x1="34.46" y1="489.07" x2="38.46" y2="489.07" stroke="#3a3a3a" stroke-width="1"/>
<text transform="translate(29.96,493.57) scale(1.12,1)" text-anchor="end" class="tk">0</text>
<line x1="34.46" y1="525.4" x2="38.46" y2="525.4" stroke="#3a3a3a" stroke-width="1"/>
<text transform="translate(29.96,529.9) scale(1.12,1)" text-anchor="end" class="tk">1</text>
<rect x="16" y="526.3" width="6.2" height="0.9" fill="#000"/>
<line x1="47.8" y1="525.4" x2="47.8" y2="529.4" stroke="#3a3a3a" stroke-width="1"/>
<text transform="translate(47.8,541.7) scale(1.12,1)" text-anchor="middle" class="tk">0</text>
<line x1="91.22" y1="525.4" x2="91.22" y2="529.4" stroke="#3a3a3a" stroke-width="1"/>
<text transform="translate(91.22,541.7) scale(1.12,1)" text-anchor="middle" class="tk">50</text>
<line x1="134.65" y1="525.4" x2="134.65" y2="529.4" stroke="#3a3a3a" stroke-width="1"/>
<text transform="translate(134.65,541.7) scale(1.12,1)" text-anchor="middle" class="tk">100</text>
<line x1="178.07" y1="525.4" x2="178.07" y2="529.4" stroke="#3a3a3a" stroke-width="1"/>
<text transform="translate(178.07,541.7) scale(1.12,1)" text-anchor="middle" class="tk">150</text>
<line x1="221.5" y1="525.4" x2="221.5" y2="529.4" stroke="#3a3a3a" stroke-width="1"/>
<text transform="translate(221.5,541.7) scale(1.12,1)" text-anchor="middle" class="tk">200</text>
<text x="225.4" y="434.6" text-anchor="end" class="ti">Time warping</text>
<text transform="translate(10,471.4) rotate(-90)" text-anchor="middle" class="lb">Amplitude</text>
</g>
<g>
<polyline points="322.3,433.87 324.06,438.68 325.82,449.94 327.58,449.88 329.34,450.67 331.1,463.45 332.86,451.87 334.62,465.07 336.38,455.95 338.14,457.59 339.9,461.32 341.66,456.84 343.42,481.94 345.18,457.79 346.94,466.04 348.7,462.23 350.46,460.82 352.22,469.59 353.98,460.35 355.74,472.87 357.5,462.67 359.26,464.31 361.02,466.66 362.78,462.7 364.54,484.64 366.3,463.28 368.06,469.02 369.82,466.09 371.58,464.97 373.34,472.98 375.1,463.94 376.86,478.06 378.62,465.79 380.38,467.45 382.14,468.51 383.9,465.98 385.66,482.47 387.42,465.9 389.18,473.71 390.94,468.86 392.7,467.48 394.46,475.29 396.22,466.21 397.98,479.52 399.74,467.54 401.5,470.71 403.26,471.48 405.02,467.83 406.78,486.59 408.54,467.51 410.3,474.26 412.06,469.64 413.82,469.84 415.58,477.26 417.34,467.6 419.1,483.76 420.86,468.95 422.62,472.3 424.38,472.13 426.14,469.71 427.9,486.96 429.66,469.28 431.42,474.72 433.18,470.64 434.94,470.2 436.7,476 438.46,468.91 440.22,484.91 441.98,469.18 443.74,473.92 445.5,472.9 447.26,470.07 449.02,481.79 450.78,469.47 452.54,477.56 454.3,471.06 456.06,471.43 457.82,476.01 459.58,470.15 461.34,489.03 463.1,470.28 464.86,474.34 466.62,472.58 468.38,470.98 470.14,481.78 471.9,469.85 473.66,480.14 475.42,471.78 477.18,472.22 478.94,476.46 480.7,469.94 482.46,494.9 484.22,470.07 485.98,475.91 487.74,473.49 489.5,471.36 491.26,480.87 493.02,470.47 494.78,480.01 496.54,472.01 498.3,472.73 500.06,476.29 501.82,470.13 503.58,483.12" fill="none" stroke="#1666a8" stroke-width="1.7" stroke-linejoin="round" stroke-linecap="square"/>
<polyline points="322.3,422.7 324.06,427.69 325.82,437.74 327.58,438.82 329.34,438.88 331.1,452.24 332.86,441.07 334.62,450.81 336.38,444.99 338.14,446.15 339.9,452.53 341.66,445.77 343.42,460.5 345.18,447.6 346.94,451.09 348.7,452.5 350.46,449.02 352.22,473.61 353.98,449.64 355.74,455.53 357.5,452.82 359.26,451.71 361.02,461.7 362.78,451.33 364.54,460.77 366.3,453.26 368.06,454.34 369.82,458.95 371.58,452.85 373.34,469.8 375.1,453.81 376.86,457.06 378.62,457.37 380.38,454.52 382.14,473.32 383.9,454.35 385.66,460.84 387.42,456.88 389.18,456.15 390.94,464.39 392.7,455.24 394.46,465.85 396.22,456.71 397.98,458.19 399.74,461.56 401.5,456.16 403.26,477.72 405.02,456.71 406.78,460.7 408.54,460 410.3,457.31 412.06,472.22 413.82,456.96 415.58,463.99 417.34,459.04 419.1,458.79 420.86,465.91 422.62,457.55 424.38,469.51 426.14,458.58 427.9,460.48 429.66,462.98 431.42,458.1 433.18,488.02 434.94,458.36 436.7,462.87 438.46,461.19 440.22,459.1 441.98,471.09 443.74,458.44 445.5,466.33 447.26,460.25 449.02,460.36 450.78,466.28 452.54,458.77 454.3,472.27 456.06,459.62 457.82,462.12 459.58,463.55 461.34,459.24 463.1,484.98 464.86,459.3 466.62,464.42 468.38,461.82 470.14,460.16 471.9,470.53 473.66,459.27 475.42,468.14 477.18,460.69 478.94,461.42 480.7,466.19 482.46,459.43 484.22,475.17 485.98,459.98 487.74,463.04 489.5,463.45 491.26,459.95 493.02,479.08 494.78,459.64 496.54,465.33 498.3,461.87 500.06,460.72 501.82,469.4 503.58,460.35" fill="none" stroke="#f86c12" stroke-width="1.7" stroke-linejoin="round" stroke-linecap="square"/>
<polyline points="322.3,425.71 324.06,429.89 325.82,445.09 327.58,438.93 329.34,445.32 331.1,444.15 332.86,445.63 334.62,448.54 336.38,446.74 338.14,455.02 339.9,447.64 341.66,470.32 343.42,448.77 345.18,461.91 346.94,450.62 348.7,455.99 350.46,452.44 352.22,454.36 353.98,455.4 355.74,453.62 357.5,460.4 359.26,453.15 361.02,468.57 362.78,453.75 364.54,468.11 366.3,454.6 368.06,461.29 369.82,456.21 371.58,458.46 373.34,458.43 375.1,457.05 376.86,462.1 378.62,456.53 380.38,469.36 382.14,456.66 383.9,472.2 385.66,456.89 387.42,465.21 389.18,458.42 390.94,460.92 392.7,459.86 394.46,459.58 396.22,463.27 397.98,458.62 399.74,469.17 401.5,458.17 403.26,488.69 405.02,458.8 406.78,468.29 408.54,459.7 410.3,463.66 412.06,461.17 413.82,461.45 415.58,463.96 417.34,460.29 419.1,468.73 420.86,459.79 422.62,483.62 424.38,459.89 426.14,471.49 427.9,460.65 429.66,465.77 431.42,462.27 433.18,462.78 434.94,464.3 436.7,461.71 438.46,468.49 440.22,460.87 441.98,478.84 443.74,460.84 445.5,473.37 447.26,461.22 449.02,467.09 450.78,462.52 452.54,464.21 454.3,464.51 456.06,462.59 457.82,467.92 459.58,461.62 461.34,475.36 463.1,461.37 464.86,478.11 466.62,461.7 468.38,468.6 470.14,462.64 471.9,465.39 473.66,464.42 475.42,463.22 477.18,467.04 478.94,462.31 480.7,473.12 482.46,461.97 484.22,482.47 485.98,461.95 487.74,470.55 489.5,462.99 491.26,466 493.02,464.25 494.78,463.92 496.54,466.89 498.3,462.49 500.06,471.92 501.82,461.93 503.58,478.35" fill="none" stroke="#1f8c24" stroke-width="1.7" stroke-linejoin="round" stroke-linecap="square"/>
<line x1="313.8" y1="416.4" x2="513.9" y2="416.4" stroke="#0e0e0e" stroke-width="1.3"/>
<line x1="313.8" y1="526.5" x2="513.9" y2="526.5" stroke="#c4c4c4" stroke-width="1.3"/>
<line x1="314.3" y1="415.9" x2="314.3" y2="527" stroke="#141414" stroke-width="1.3"/>
<line x1="513.4" y1="415.9" x2="513.4" y2="527" stroke="#141414" stroke-width="1.3"/>
<line x1="310.2" y1="422.4" x2="314.2" y2="422.4" stroke="#3a3a3a" stroke-width="1"/>
<text x="299.6" y="428" text-anchor="end" class="tky">10</text>
<text x="305.2" y="423" text-anchor="end" class="sup">2</text>
<line x1="310.2" y1="457.7" x2="314.2" y2="457.7" stroke="#3a3a3a" stroke-width="1"/>
<text x="299.6" y="463.3" text-anchor="end" class="tky">10</text>
<text x="305.2" y="458.3" text-anchor="end" class="sup">0</text>
<line x1="310.2" y1="493" x2="314.2" y2="493" stroke="#3a3a3a" stroke-width="1"/>
<text x="292.4" y="498.6" text-anchor="end" class="tky">10</text>
<rect x="294.2" y="490.4" width="4.8" height="0.9" fill="#000"/>
<text x="305.2" y="493.6" text-anchor="end" class="sup">2</text>
<line x1="322.3" y1="526.4" x2="322.3" y2="530.4" stroke="#3a3a3a" stroke-width="1"/>
<text transform="translate(322.8,543.6) scale(1.12,1)" text-anchor="middle" class="tk2">0</text>
<line x1="357.5" y1="526.4" x2="357.5" y2="530.4" stroke="#3a3a3a" stroke-width="1"/>
<text transform="translate(358,543.6) scale(1.12,1)" text-anchor="middle" class="tk2">20</text>
<line x1="392.7" y1="526.4" x2="392.7" y2="530.4" stroke="#3a3a3a" stroke-width="1"/>
<text transform="translate(393.2,543.6) scale(1.12,1)" text-anchor="middle" class="tk2">40</text>
<line x1="427.9" y1="526.4" x2="427.9" y2="530.4" stroke="#3a3a3a" stroke-width="1"/>
<text transform="translate(428.4,543.6) scale(1.12,1)" text-anchor="middle" class="tk2">60</text>
<line x1="463.1" y1="526.4" x2="463.1" y2="530.4" stroke="#3a3a3a" stroke-width="1"/>
<text transform="translate(463.6,543.6) scale(1.12,1)" text-anchor="middle" class="tk2">80</text>
<line x1="498.3" y1="526.4" x2="498.3" y2="530.4" stroke="#3a3a3a" stroke-width="1"/>
<text transform="translate(498.8,543.6) scale(1.12,1)" text-anchor="middle" class="tk2">100</text>
<text x="504.2" y="433.3" text-anchor="end" class="ti">Time warping</text>
<text transform="translate(270.8,472.95) rotate(-90)" text-anchor="middle" class="lb">Log-magnitude</text>
</g>
<rect x="518.6" y="215" width="1.4" height="1.8" fill="#dcdcdc"/><rect x="518.6" y="221.2" width="1.4" height="1.6" fill="#e4e4e4"/>
<text x="128.6" y="558.7" text-anchor="middle" class="xl">Time</text>
<text x="409.2" y="559.2" text-anchor="middle" class="xl">Frequency</text>
</svg>
</body></html>
